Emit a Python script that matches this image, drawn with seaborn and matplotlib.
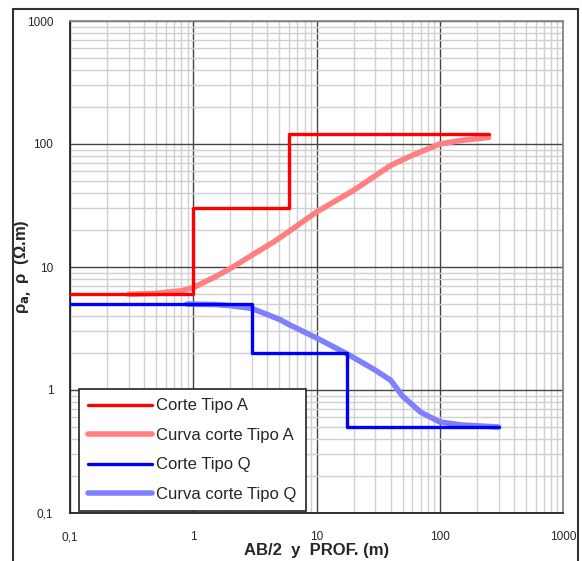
import numpy as np
import pandas as pd
import matplotlib
matplotlib.use("Agg")
import matplotlib.pyplot as plt
import seaborn as sns
from matplotlib.ticker import FixedLocator, FixedFormatter, LogLocator, NullFormatter
from matplotlib.patches import Rectangle

# ---- data ----
corte_a_x = [0.1, 1.0, 6.0, 250.0]
corte_a_y = [6.0, 30.0, 120.0, 120.0]

curva_a_x = [0.3, 0.5, 0.8, 1.0, 1.5, 2.1, 3.0, 4.5, 6.0, 10.0, 20.0, 40.0, 60.0, 100.0, 150.0, 250.0]
curva_a_y = [6.0, 6.1, 6.4, 6.8, 8.3, 10.0, 12.5, 16.0, 19.5, 28.0, 42.0, 67.0, 81.0, 100.0, 107.0, 113.0]

corte_q_x = [0.1, 3.0, 17.8, 300.0]
corte_q_y = [5.0, 2.0, 0.5, 0.5]

curva_q_x = [0.89, 1.5, 2.0, 3.0, 4.0, 5.0, 6.0, 10.0, 18.0, 30.0, 40.0, 50.0, 70.0, 100.0, 150.0, 300.0]
curva_q_y = [5.0, 4.95, 4.85, 4.6, 4.1, 3.75, 3.4, 2.65, 1.95, 1.45, 1.2, 0.89, 0.66, 0.55, 0.52, 0.5]

tick_vals = [0.1, 1, 10, 100, 1000]
tick_labels = ["0,1", "1", "10", "100", "1000"]

labels = ["Corte Tipo A", "Curva corte Tipo A", "Corte Tipo Q", "Curva corte Tipo Q"]

sns.set_style("white")
plt.rcParams['font.family'] = ['Liberation Sans', 'DejaVu Sans']

fig = plt.figure(figsize=(5.82, 5.61), dpi=100)
ax = fig.add_axes([70/582, 1-513/561, 493/582, 492/561])
ax.set_xscale("log")
ax.set_yscale("log")

sns.lineplot(x=corte_a_x, y=corte_a_y, ax=ax, color="#ff0000", lw=2.4,
             drawstyle="steps-post", estimator=None, sort=False, label=labels[0], zorder=4)
sns.lineplot(x=curva_a_x, y=curva_a_y, ax=ax, color="#ff8080", lw=4,
             estimator=None, sort=False, label=labels[1], zorder=3)
sns.lineplot(x=corte_q_x, y=corte_q_y, ax=ax, color="#0000ff", lw=2.4,
             drawstyle="steps-post", estimator=None, sort=False, label=labels[2], zorder=4)
sns.lineplot(x=curva_q_x, y=curva_q_y, ax=ax, color="#8080ff", lw=4,
             estimator=None, sort=False, label=labels[3], zorder=3)

ax.set_xlim(0.1, 1000)
ax.set_ylim(0.1, 1000)

for axis in (ax.xaxis, ax.yaxis):
    axis.set_major_locator(FixedLocator(tick_vals))
    axis.set_major_formatter(FixedFormatter(tick_labels))
    axis.set_minor_locator(LogLocator(base=10, subs=np.arange(2, 10), numticks=20))
    axis.set_minor_formatter(NullFormatter())

ax.grid(True, which="minor", color="#d0d0d0", lw=1.0, zorder=0)
ax.grid(True, which="major", color="#444444", lw=1.0, zorder=1)
ax.set_axisbelow(True)

ax.tick_params(axis="both", which="major", direction="out", length=4, width=1,
               color="#333333", labelsize=8.5)
ax.tick_params(axis="x", which="major", pad=9)
ax.tick_params(axis="y", which="major", pad=8)
ax.tick_params(axis="y", which="minor", direction="out", length=2.5, width=0.8, color="#888888")
ax.tick_params(axis="x", which="minor", length=0)

for side in ["left", "bottom"]:
    ax.spines[side].set_color("#222222")
    ax.spines[side].set_linewidth(1.3)
for side in ["top", "right"]:
    ax.spines[side].set_color("#888888")
    ax.spines[side].set_linewidth(1.3)

ax.set_xlabel("AB/2  y  PROF. (m)", fontsize=12, fontweight="bold", labelpad=0)
ax.set_ylabel(r"ρ$_{\mathbf{a,}}$ ρ  (Ω.m)", fontsize=12, fontweight="bold")
ax.yaxis.set_label_coords(-37/493, 0.50)

leg = ax.legend(loc="lower left", bbox_to_anchor=(9/493, 2/492), borderaxespad=0,
                fontsize=12, frameon=True, fancybox=False, handlelength=3.85,
                handletextpad=0.25, labelspacing=0.87, borderpad=0.55)
leg.get_frame().set_edgecolor("#222222")
leg.get_frame().set_linewidth(1.2)
leg.get_frame().set_alpha(1)

fig.patches.append(Rectangle((13/582, -0.02), (578-13)/582, 1-9/561+0.02,
                             transform=fig.transFigure, fill=False,
                             edgecolor="#333333", lw=1.5))

fig.savefig("out.png", dpi=100)
